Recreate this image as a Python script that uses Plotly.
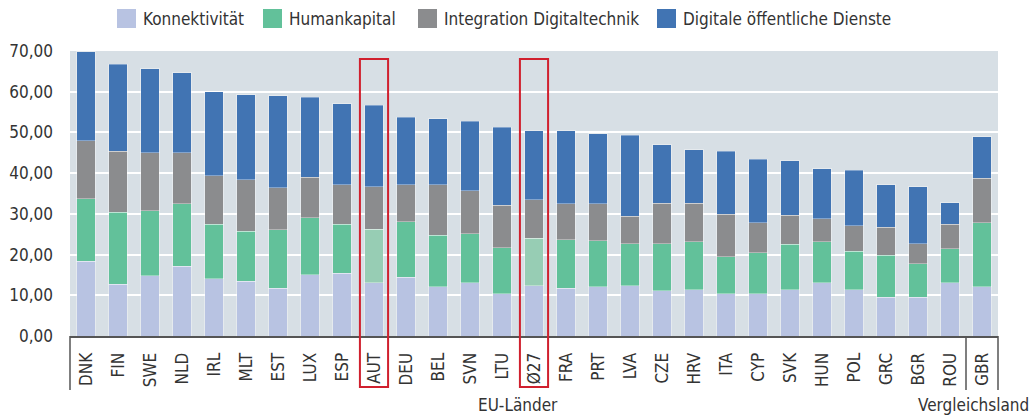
import plotly.graph_objects as go

categories = ["DNK", "FIN", "SWE", "NLD", "IRL", "MLT", "EST", "LUX", "ESP", "AUT",
              "DEU", "BEL", "SVN", "LTU", "Ø27", "FRA", "PRT", "LVA", "CZE", "HRV",
              "ITA", "CYP", "SVK", "HUN", "POL", "GRC", "BGR", "ROU", "GBR"]

konnektivitaet = [18.4, 12.7, 14.8, 17.1, 14.1, 13.4, 11.7, 15.1, 15.4, 13.1,
                  14.4, 12.1, 13.1, 10.4, 12.4, 11.7, 12.1, 12.4, 11.1, 11.4,
                  10.4, 10.4, 11.4, 13.1, 11.4, 9.5, 9.5, 13.1, 12.1]
humankapital = [15.3, 17.7, 16.0, 15.4, 13.3, 12.3, 14.4, 14.0, 12.0, 13.1,
                13.7, 12.6, 12.0, 11.3, 11.6, 12.0, 11.3, 10.3, 11.6, 11.7,
                9.1, 10.0, 11.1, 10.0, 9.4, 10.3, 8.2, 8.3, 15.7]
integration = [14.3, 15.0, 14.2, 12.5, 12.0, 12.7, 10.3, 9.9, 9.7, 10.5,
               9.0, 12.4, 10.6, 10.4, 9.5, 8.8, 9.1, 6.7, 9.9, 9.5,
               10.4, 7.4, 7.2, 5.7, 6.3, 6.9, 5.0, 6.0, 11.0]
dienste = [21.8, 21.3, 20.7, 19.7, 20.6, 20.9, 22.6, 19.7, 19.9, 20.0,
           16.6, 16.3, 17.0, 19.2, 16.9, 17.9, 17.2, 19.9, 14.4, 13.1,
           15.5, 15.6, 13.3, 12.3, 13.6, 10.4, 14.0, 5.3, 10.2]

series_names = ["Konnektivität", "Humankapital", "Integration Digitaltechnik",
                "Digitale öffentliche Dienste"]
highlighted = ["AUT", "Ø27"]
y_ticks = [0, 10, 20, 30, 40, 50, 60, 70]

FONT = "DejaVu Sans Condensed, Liberation Sans Narrow, Arial Narrow, sans-serif"
TXT = "#333333"
colors = ["#b8c3e2", "#62c19a", "#8b8c8e", "#4174b3"]
light_green = "#97cdb4"

W, H = 1033, 417
L, R, T, B = 70, 35, 51, 81
PW, PH = W - L - R, H - T - B
FS = 17


def px_x(p):
    return (p - L) / PW


def px_y(p):
    return (H - B - p) / PH


fig = go.Figure()
all_vals = [konnektivitaet, humankapital, integration, dienste]
for i, (name, vals) in enumerate(zip(series_names, all_vals)):
    col = colors[i]
    if i == 1:
        col = [light_green if c in highlighted else colors[1] for c in categories]
    fig.add_trace(go.Bar(
        x=categories, y=vals, name=name,
        marker=dict(color=col, line=dict(color="rgba(255,255,255,0.35)", width=1)),
        showlegend=False,
        hovertemplate="%{x}: %{y:.1f}<extra>" + name + "</extra>",
    ))

shapes = []
annotations = []

# highlight boxes
for c in highlighted:
    idx = categories.index(c)
    shapes.append(dict(type="rect", xref="x", yref="paper",
                       x0=idx - 0.44, x1=idx + 0.44, y0=px_y(387), y1=px_y(59),
                       line=dict(color="#d0202e", width=2), fillcolor="rgba(0,0,0,0)",
                       layer="above"))

# group dividers below axis
gbr_idx = categories.index("GBR")
for xr, xv in [("paper", 0), ("x", gbr_idx - 0.5), ("paper", 1)]:
    shapes.append(dict(type="line", xref=xr, yref="paper", x0=xv, x1=xv,
                       y0=0, y1=px_y(390), line=dict(color="#555555", width=1.5)))

annotations.append(dict(text="EU-Länder", xref="x", yref="paper",
                        x=(gbr_idx - 1) / 2, y=px_y(405), yanchor="middle",
                        showarrow=False, font=dict(family=FONT, size=FS, color=TXT)))
annotations.append(dict(text="Vergleichsland", xref="paper", yref="paper",
                        x=px_x(1031), y=px_y(405), xanchor="right", yanchor="middle",
                        showarrow=False, font=dict(family=FONT, size=FS, color=TXT)))

# manual legend
legend_sq = [117, 263, 418, 657]
for i, name in enumerate(series_names):
    x0 = legend_sq[i]
    shapes.append(dict(type="rect", xref="paper", yref="paper",
                       x0=px_x(x0), x1=px_x(x0 + 19), y0=px_y(28), y1=px_y(9),
                       fillcolor=colors[i], line=dict(width=0)))
    annotations.append(dict(text=name, xref="paper", yref="paper",
                            x=px_x(x0 + 24), y=px_y(18.5), xanchor="left",
                            yanchor="middle", showarrow=False,
                            font=dict(family=FONT, size=FS, color=TXT)))

fig.update_layout(
    width=W, height=H,
    margin=dict(l=L, r=R, t=T, b=B, autoexpand=False),
    barmode="stack", bargap=0.41,
    plot_bgcolor="#d7dfe5", paper_bgcolor="white",
    separators=",.",
    font=dict(family=FONT, size=FS, color=TXT),
    shapes=shapes, annotations=annotations,
    xaxis=dict(type="category", tickangle=-90, showline=True, linecolor="#555555",
               linewidth=2, ticks="", showgrid=False, automargin=False,
               tickfont=dict(family=FONT, size=FS, color=TXT),
               ticklabelstandoff=8, range=[-0.5, len(categories) - 0.5]),
    yaxis=dict(range=[0, 70], tickvals=y_ticks, tickformat=".2f",
               showgrid=True, gridcolor="white", gridwidth=2,
               zeroline=False, showline=False, ticks="", automargin=False,
               ticklabelstandoff=16,
               tickfont=dict(family=FONT, size=FS, color=TXT)),
)

fig.write_html("out.html", config={"displayModeBar": False},
               post_script="document.body.style.margin='0';document.body.style.overflow='hidden';")
